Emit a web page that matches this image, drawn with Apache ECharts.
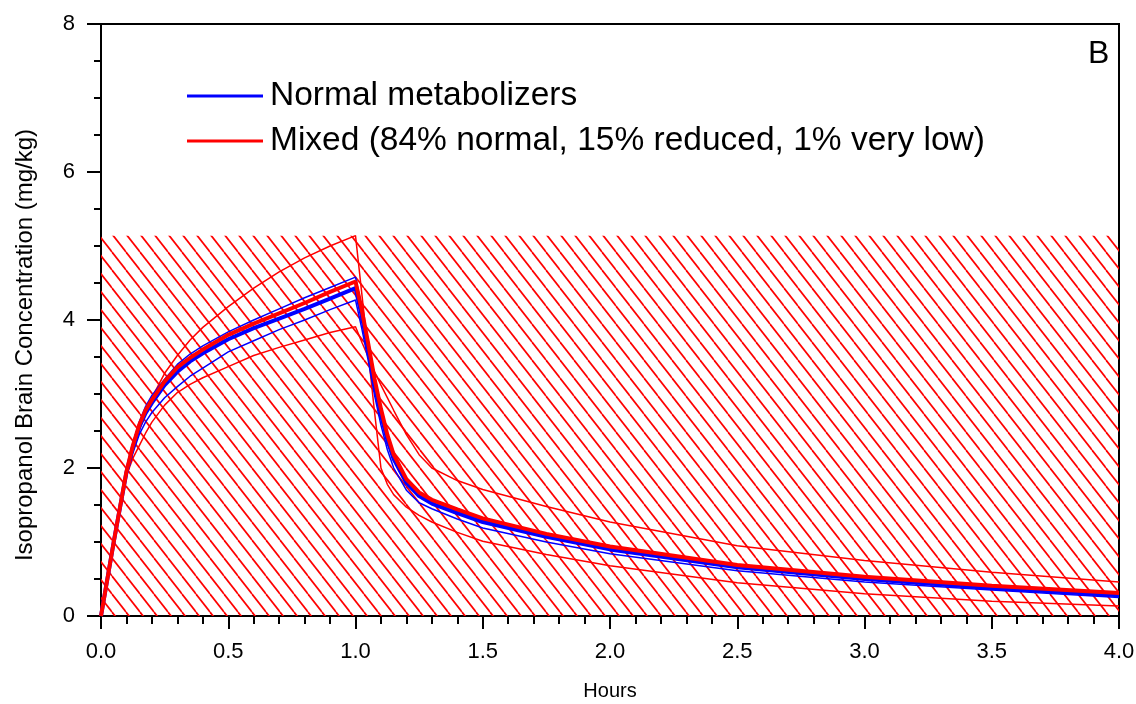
<!DOCTYPE html>
<html>
<head>
<meta charset="utf-8">
<script src="https://cdn.jsdelivr.net/npm/echarts@6/dist/echarts.min.js"></script>
<style>
html,body{margin:0;padding:0;background:#fff;}
#chart{width:1136px;height:704px;}
</style>
</head>
<body>
<div id="chart"></div>
<script>
// ---- data ----
const hours = [0, 0.05, 0.1, 0.125, 0.15, 0.175, 0.2, 0.25, 0.3, 0.35, 0.4, 0.5, 0.6, 0.7, 0.8, 0.9, 1.0, 1.025, 1.05, 1.075, 1.1, 1.125, 1.15, 1.2, 1.25, 1.3, 1.4, 1.5, 1.75, 2.0, 2.5, 3.0, 3.5, 4.0];
const normalMedian = [0, 1.0, 1.94, 2.28, 2.55, 2.74, 2.88, 3.12, 3.3, 3.44, 3.55, 3.74, 3.89, 4.02, 4.15, 4.29, 4.43, 4.05, 3.6, 3.12, 2.72, 2.38, 2.12, 1.8, 1.62, 1.52, 1.39, 1.27, 1.07, 0.90, 0.66, 0.50, 0.38, 0.28];
const normalUpper  = [0, 1.0, 1.96, 2.33, 2.62, 2.83, 2.98, 3.2, 3.4, 3.54, 3.65, 3.84, 4.0, 4.15, 4.3, 4.44, 4.58, 4.17, 3.72, 3.24, 2.82, 2.46, 2.2, 1.86, 1.66, 1.56, 1.42, 1.30, 1.10, 0.93, 0.68, 0.51, 0.39, 0.30];
const normalLower  = [0, 0.98, 1.89, 2.2, 2.45, 2.62, 2.75, 2.95, 3.1, 3.24, 3.35, 3.57, 3.72, 3.87, 4.0, 4.14, 4.27, 3.88, 3.45, 2.98, 2.58, 2.25, 2.0, 1.70, 1.53, 1.45, 1.31, 1.19, 1.0, 0.84, 0.61, 0.46, 0.35, 0.25];
const mixedMedian  = [0, 1.0, 1.95, 2.3, 2.58, 2.78, 2.92, 3.17, 3.36, 3.49, 3.60, 3.80, 3.95, 4.09, 4.23, 4.38, 4.52, 4.13, 3.68, 3.20, 2.80, 2.45, 2.18, 1.85, 1.67, 1.57, 1.44, 1.32, 1.11, 0.94, 0.69, 0.53, 0.41, 0.31];
const mixedBoundA  = [0, 1.0, 1.98, 2.27, 2.5, 2.74, 2.95, 3.28, 3.52, 3.73, 3.9, 4.18, 4.43, 4.65, 4.84, 5.0, 5.14, 4.35, 3.55, 2.75, 2.0, 1.78, 1.64, 1.47, 1.36, 1.27, 1.13, 1.01, 0.83, 0.68, 0.45, 0.30, 0.20, 0.135];
const mixedBoundB  = [0, 0.98, 1.9, 2.13, 2.30, 2.47, 2.62, 2.85, 3.02, 3.13, 3.22, 3.37, 3.52, 3.63, 3.73, 3.83, 3.91, 3.70, 3.50, 3.30, 3.12, 2.95, 2.78, 2.45, 2.18, 2.00, 1.83, 1.71, 1.48, 1.27, 0.95, 0.75, 0.59, 0.46];
const hatchRange = [[0, 5.14], [4, 5.14]];
const xTicks = [0, 0.5, 1.0, 1.5, 2.0, 2.5, 3.0, 3.5, 4.0];
const yTicks = [0, 2, 4, 6, 8];
const legendNames = ['Normal metabolizers', 'Mixed (84% normal, 15% reduced, 1% very low)'];

function pairs(xs, ys) { return xs.map((x, i) => [x, ys[i]]); }

// hatch pattern
const tile = document.createElement('canvas');
tile.width = 14; tile.height = 18;
const g = tile.getContext('2d');
g.strokeStyle = '#ff0000';
g.lineWidth = 1.7;
[[-14, 0], [0, 0], [14, 0]].forEach(([ox, oy]) => {
  g.beginPath(); g.moveTo(ox, oy); g.lineTo(ox + 14, oy + 18); g.stroke();
});

const FONT = 'Liberation Sans, Arial, sans-serif';
const chart = echarts.init(document.getElementById('chart'), null, {renderer: 'canvas'});

function line(name, data, color, width, z) {
  return {
    name: name, type: 'line', data: data, showSymbol: false, symbol: 'none',
    lineStyle: {color: color, width: width}, itemStyle: {color: color},
    z: z, silent: true, animation: false
  };
}

chart.setOption({
  animation: false,
  backgroundColor: '#fff',
  grid: {left: 101, right: 17, top: 24, bottom: 88, containLabel: false, outerBoundsMode: 'none',
    show: true, borderColor: '#000', borderWidth: 2, backgroundColor: 'transparent'},
  xAxis: {
    type: 'value', min: 0, max: 4, interval: 0.5,
    axisLine: {show: true, onZero: false, lineStyle: {color: '#000', width: 2}},
    axisTick: {show: true, inside: false, length: 13, lineStyle: {color: '#000', width: 2}},
    minorTick: {show: true, splitNumber: 5, length: 8, lineStyle: {color: '#000', width: 2}},
    splitLine: {show: false},
    axisLabel: {margin: 25, fontSize: 22, color: '#000', fontFamily: FONT,
      formatter: v => xTicks.includes(v) ? v.toFixed(1) : ''},
    name: 'Hours', nameLocation: 'middle', nameGap: 65,
    nameTextStyle: {fontSize: 20, color: '#000', fontFamily: FONT}
  },
  yAxis: {
    type: 'value', min: 0, max: 8, interval: 2,
    axisLine: {show: true, onZero: false, lineStyle: {color: '#000', width: 2}},
    axisTick: {show: true, inside: false, length: 14, lineStyle: {color: '#000', width: 2}},
    minorTick: {show: true, splitNumber: 4, length: 7, lineStyle: {color: '#000', width: 2}},
    splitLine: {show: false},
    axisLabel: {margin: 26, fontSize: 22, color: '#000', fontFamily: FONT,
      formatter: v => yTicks.includes(v) ? String(v) : ''}
  },
  graphic: [
    {type: 'text', left: 1088, top: 38, z: 100,
      style: {text: 'B', fontSize: 32, fontFamily: FONT, fill: '#000'}},
    {type: 'text', z: 100, x: 25, y: 345, rotation: Math.PI / 2,
      style: {text: 'Isopropanol Brain Concentration (mg/kg)', fontSize: 24, fontFamily: FONT, fill: '#000', align: 'center', verticalAlign: 'middle'}},
    {type: 'line', z: 100, shape: {x1: 187, y1: 96, x2: 263, y2: 96}, style: {stroke: '#0000ff', lineWidth: 3}},
    {type: 'text', z: 100, x: 270, y: 96,
      style: {text: legendNames[0], fontSize: 33.5, fontFamily: FONT, fill: '#000', verticalAlign: 'middle'}},
    {type: 'line', z: 100, shape: {x1: 187, y1: 141, x2: 263, y2: 141}, style: {stroke: '#ff0000', lineWidth: 3}},
    {type: 'text', z: 100, x: 270, y: 141,
      style: {text: legendNames[1], fontSize: 33.5, fontFamily: FONT, fill: '#000', verticalAlign: 'middle'}}
  ],
  series: [
    {
      name: 'hatch', type: 'line', data: hatchRange, showSymbol: false, symbol: 'none',
      lineStyle: {width: 0, opacity: 0}, z: 1, silent: true,
      areaStyle: {origin: 'start', opacity: 1, color: {image: tile, repeat: 'repeat'}}
    },
    line('mixed bound A', pairs(hours, mixedBoundA), '#ff0000', 1.5, 2),
    line('mixed bound B', pairs(hours, mixedBoundB), '#ff0000', 1.5, 2),
    line('normal upper', pairs(hours, normalUpper), '#0000ff', 1.5, 3),
    line('normal lower', pairs(hours, normalLower), '#0000ff', 1.5, 3),
    line(legendNames[0], pairs(hours, normalMedian), '#0000ff', 4, 4),
    line(legendNames[1], pairs(hours, mixedMedian), '#ff0000', 4, 5)
  ]
});
</script>
</body>
</html>
